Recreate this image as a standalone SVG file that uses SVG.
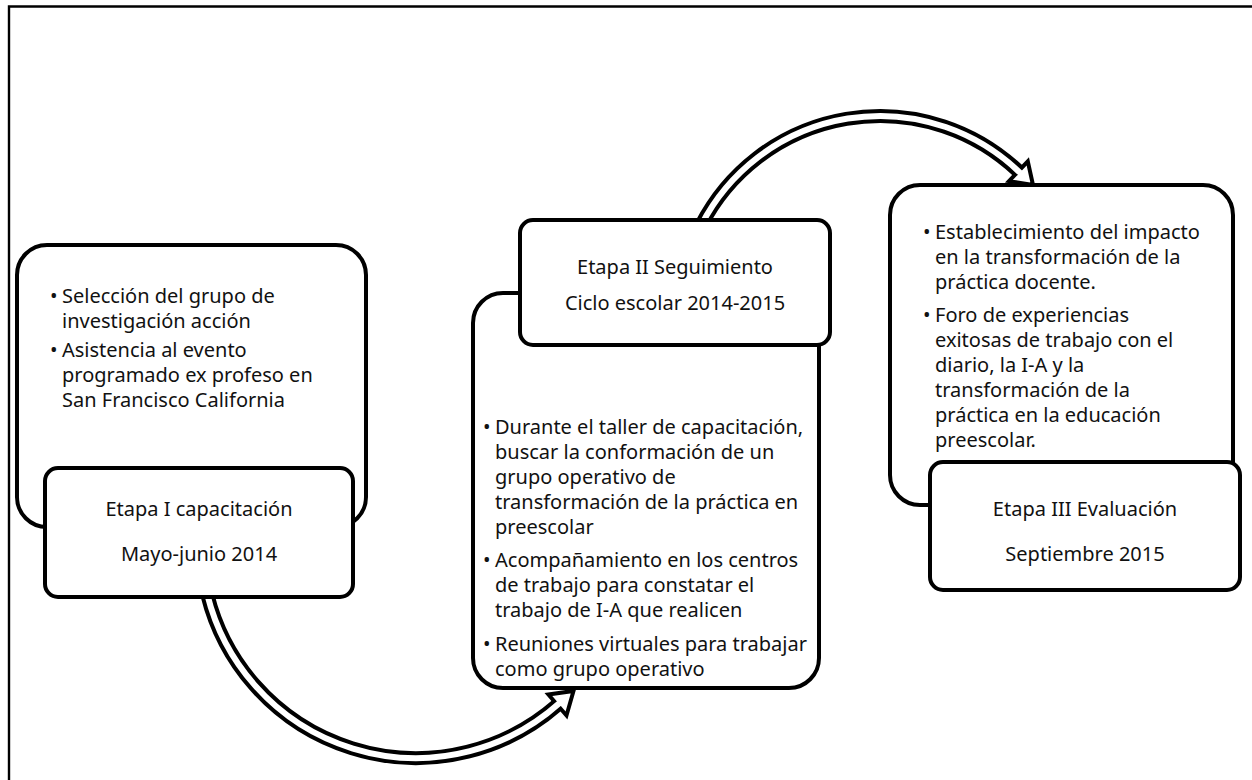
<svg xmlns="http://www.w3.org/2000/svg" width="1252" height="780" viewBox="0 0 1252 780">
<style>
.box{fill:#fff;stroke:#000;stroke-width:4}
.t{font-family:"Noto Sans","Open Sans","Liberation Sans",sans-serif;font-size:20px;fill:#111}
.c{text-anchor:middle}
.sh{fill:none;stroke:#000;stroke-width:14}
.sw{fill:none;stroke:#fff;stroke-width:6}
.hd{fill:#fff;stroke:#000;stroke-width:4;stroke-linejoin:miter}
</style>
<rect width="1252" height="780" fill="#fff"/>
<path d="M9,780 V6.5 H1252" fill="none" stroke="#000" stroke-width="2.4"/>
<g id="connectors">
  <g id="arrow1">
    <path class="sh" d="M207.4,595 A215,215 0 0 0 557.4,705"/>
    <polygon class="hd" points="573.5,691 566.5,715.5 548.4,694.5"/>
    <path class="sw" d="M207.4,595 A215,215 0 0 0 559.6,703"/>
  </g>
  <g id="arrow2">
    <path class="sh" d="M701.3,225 A201,201 0 0 1 1018.4,171.2"/>
    <polygon class="hd" points="1033,185 1027.8,161.3 1009,181.1"/>
    <path class="sw" d="M701.3,225 A201,201 0 0 1 1020.4,173.1"/>
  </g>
</g>
<g id="node1">
  <rect class="box" x="17" y="245" width="349" height="282" rx="30"/>
  <text class="t" x="50" y="303">•</text><text class="t" x="62" y="303">Selección del grupo de</text>
  <text class="t" x="62" y="328">investigación acción</text>
  <text class="t" x="50" y="357">•</text><text class="t" x="62" y="357">Asistencia al evento</text>
  <text class="t" x="62" y="382">programado ex profeso en</text>
  <text class="t" x="62" y="407">San Francisco California</text>
  <rect class="box" x="45" y="468" width="308" height="129" rx="13"/>
  <text class="t c" x="199" y="516">Etapa I capacitación</text>
  <text class="t c" x="199" y="561">Mayo-junio 2014</text>
</g>
<g id="node2">
  <rect class="box" x="473" y="293" width="346" height="395" rx="30"/>
  <text class="t" x="483" y="434">•</text><text class="t" x="495" y="434">Durante el taller de capacitación,</text>
  <text class="t" x="495" y="459">buscar la conformación de un</text>
  <text class="t" x="495" y="484">grupo operativo de</text>
  <text class="t" x="495" y="509">transformación de la práctica en</text>
  <text class="t" x="495" y="534">preescolar</text>
  <text class="t" x="483" y="567">•</text><text class="t" x="495" y="567">Acompañamiento en los centros</text>
  <text class="t" x="495" y="592">de trabajo para constatar el</text>
  <text class="t" x="495" y="617">trabajo de I-A que realicen</text>
  <text class="t" x="483" y="651">•</text><text class="t" x="495" y="651">Reuniones virtuales para trabajar</text>
  <text class="t" x="495" y="676">como grupo operativo</text>
  <rect class="box" x="520" y="220" width="310" height="125" rx="13"/>
  <text class="t c" x="675" y="274">Etapa II Seguimiento</text>
  <text class="t c" x="675" y="310">Ciclo escolar 2014-2015</text>
</g>
<g id="node3">
  <rect class="box" x="890" y="185" width="343" height="320" rx="30"/>
  <text class="t" x="923" y="239">•</text><text class="t" x="935" y="239">Establecimiento del impacto</text>
  <text class="t" x="935" y="264">en la transformación de la</text>
  <text class="t" x="935" y="289">práctica docente.</text>
  <text class="t" x="923" y="322">•</text><text class="t" x="935" y="322">Foro de experiencias</text>
  <text class="t" x="935" y="347">exitosas de trabajo con el</text>
  <text class="t" x="935" y="372">diario, la I-A y la</text>
  <text class="t" x="935" y="397">transformación de la</text>
  <text class="t" x="935" y="422">práctica en la educación</text>
  <text class="t" x="935" y="447">preescolar.</text>
  <rect class="box" x="930" y="462" width="310" height="128" rx="13"/>
  <text class="t c" x="1085" y="516">Etapa III Evaluación</text>
  <text class="t c" x="1085" y="561">Septiembre 2015</text>
</g>
</svg>
